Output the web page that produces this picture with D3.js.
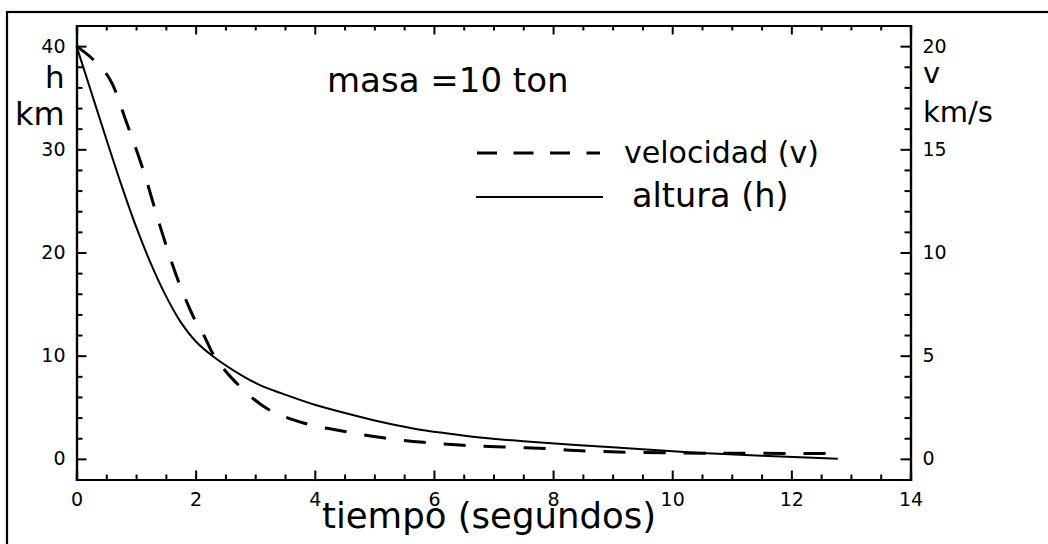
<!DOCTYPE html>
<html><head><meta charset="utf-8">
<script src="https://cdn.jsdelivr.net/npm/d3@7"></script>
<style>html,body{margin:0;padding:0;background:#fff;}svg{display:block;font-family:"DejaVu Sans",sans-serif;}</style>
</head><body>
<svg id="c" width="1048" height="544"></svg>
<script>
// Data
const tiempoH = [0, 0.25, 0.5, 0.75, 1.0, 1.25, 1.5, 1.75, 2.0, 2.3, 2.8, 3.1, 3.42, 4.0, 4.54, 5.1, 5.65, 6.2, 6.77, 7.5, 8.45, 9.5, 10.47, 11.5, 12.78];
const altura = [40, 35.5, 31.0, 26.6, 22.5, 18.9, 15.8, 13.25, 11.4, 9.9, 8.0, 7.1, 6.4, 5.25, 4.4, 3.6, 2.95, 2.48, 2.07, 1.7, 1.32, 0.93, 0.58, 0.3, 0.0];
const tiempoV = [0, 0.28, 0.56, 0.84, 1.12, 1.40, 1.68, 1.96, 2.16, 2.30, 2.63, 3.19, 3.81, 4.48, 5.15, 5.82, 6.49, 7.16, 7.89, 8.56, 9.96, 11.3, 12.78];
const velocidad = [20.0, 19.35, 18.4, 16.3, 14.0, 11.3, 8.85, 6.9, 5.86, 5.05, 3.84, 2.45, 1.74, 1.34, 1.02, 0.8, 0.66, 0.58, 0.50, 0.38, 0.29, 0.27, 0.26];
const xTicks = [0, 2, 4, 6, 8, 10, 12, 14];
const hTicks = [0, 10, 20, 30, 40];
const vTicks = [0, 5, 10, 15, 20];

const svg = d3.select("#c");
const L = 76.5, R = 910.5, T = 25.5, B = 479.5;
const x = d3.scaleLinear().domain([0, 14]).range([L, R]);
const yH = d3.scaleLinear().domain([-2, 42]).range([B, T]);
const yV = d3.scaleLinear().domain([-1, 21]).range([B, T]);

// outer frame
svg.append("rect").attr("x", 7).attr("y", 12).attr("width", 1100).attr("height", 600)
  .attr("fill", "none").attr("stroke", "#000").attr("stroke-width", 2.2);

const g = svg.append("g");
const xMinor = d3.range(0, 14.01, 0.5).filter(t => Math.abs(t % 2) > 1e-6);
const hMinor = d3.range(-2, 42.01, 2).filter(t => Math.abs(t % 10) > 1e-6);
const vMinor = d3.range(-1, 21.01, 1).filter(t => Math.abs(t % 5) > 1e-6);

// bottom
g.append("g").attr("transform", `translate(0,${B})`).call(d3.axisBottom(x).tickValues(xMinor).tickSize(-5).tickFormat(() => ""));
g.append("g").attr("class", "lab").attr("transform", `translate(0,${B})`).call(d3.axisBottom(x).tickValues(xTicks).tickSize(-9).tickPadding(13).tickFormat(d3.format("d")));
// top
g.append("g").attr("transform", `translate(0,${T})`).call(d3.axisTop(x).tickValues(xMinor).tickSize(-5).tickFormat(() => ""));
g.append("g").attr("transform", `translate(0,${T})`).call(d3.axisTop(x).tickValues(xTicks).tickSize(-9).tickFormat(() => ""));
// left
g.append("g").attr("transform", `translate(${L},0)`).call(d3.axisLeft(yH).tickValues(hMinor).tickSize(-6).tickFormat(() => ""));
g.append("g").attr("class", "lab").attr("transform", `translate(${L},0)`).call(d3.axisLeft(yH).tickValues(hTicks).tickSize(-10).tickPadding(11).tickFormat(d3.format("d")));
// right
g.append("g").attr("transform", `translate(${R},0)`).call(d3.axisRight(yV).tickValues(vMinor).tickSize(-6).tickFormat(() => ""));
g.append("g").attr("class", "lab").attr("transform", `translate(${R},0)`).call(d3.axisRight(yV).tickValues(vTicks).tickSize(-10).tickPadding(12).tickFormat(d3.format("d")));

g.selectAll(".domain").attr("stroke", "#000").attr("stroke-width", 2.2);
g.selectAll(".tick line").attr("stroke", "#000").attr("stroke-width", 2);
g.selectAll(".lab text").attr("font-size", 19).attr("fill", "#000").attr("font-family", "DejaVu Sans");

// curves
const lineH = d3.line().x((d, i) => x(tiempoH[i])).y(d => yH(d)).curve(d3.curveCatmullRom.alpha(0.5));
const lineV = d3.line().x((d, i) => x(tiempoV[i])).y(d => yV(d)).curve(d3.curveCatmullRom.alpha(0.5));
svg.append("path").datum(altura).attr("d", lineH).attr("fill", "none").attr("stroke", "#000").attr("stroke-width", 2);
svg.append("path").datum(velocidad).attr("d", lineV).attr("fill", "none").attr("stroke", "#000").attr("stroke-width", 3).attr("stroke-dasharray", "22,18");

// legend
svg.append("line").attr("x1", 477).attr("x2", 600).attr("y1", 153).attr("y2", 153).attr("stroke", "#000").attr("stroke-width", 3).attr("stroke-dasharray", "20,16.5");
svg.append("line").attr("x1", 476).attr("x2", 603).attr("y1", 197).attr("y2", 197).attr("stroke", "#000").attr("stroke-width", 2);

function txt(s, xx, yy, fs) {
  svg.append("text").attr("x", xx).attr("y", yy).attr("font-size", fs).attr("fill", "#000").text(s);
}
txt("velocidad (v)", 624, 163, 30);
txt("altura (h)", 632, 207, 33.5);
txt("masa =10 ton", 327, 92, 34);
txt("h", 45, 88, 31);
txt("km", 15, 125, 32);
txt("v", 923, 83, 29);
txt("km/s", 923, 122, 29);
txt("tiempo (segundos)", 322, 528, 35.5);
</script>
</body></html>
